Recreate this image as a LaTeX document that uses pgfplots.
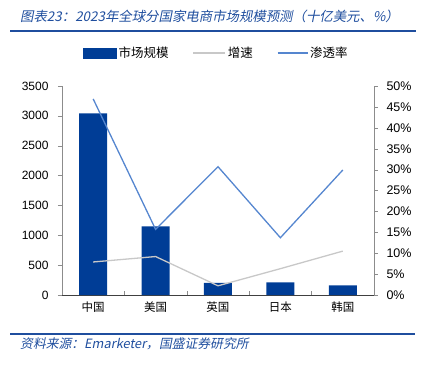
\documentclass[border=0pt]{standalone}
\usepackage{fontspec}
\setmainfont{Liberation Sans}
\newfontfamily\cjk{Noto Sans CJK SC}
\newfontfamily\cjkit{Noto Sans CJK SC}[FakeSlant=0.2]
\usepackage{pgfplots}
\pgfplotsset{compat=1.18}
\definecolor{barblue}{HTML}{003D96}
\definecolor{penblue}{HTML}{5586CF}
\definecolor{growgray}{HTML}{C8C8C8}
\definecolor{titleblue}{HTML}{1F4E9E}
\definecolor{axgray}{HTML}{8C8C8C}
\begin{document}
\begin{tikzpicture}[x=1pt,y=1pt]
\path (0,0) rectangle (424,365);
\draw[titleblue, line width=1.5pt] (10,334) -- (416,334);
\node[anchor=west, text=titleblue, font=\cjkit\fontsize{13.4}{15}\selectfont, inner sep=0pt] at (20,349) {图表23：2023年全球分国家电商市场规模预测（十亿美元、\%）};
\draw[titleblue, line width=1.2pt] (10,31) -- (415,31);
\node[anchor=west, text=titleblue, font=\cjkit\fontsize{12.8}{14}\selectfont, inner sep=0pt] at (20,21) {资料来源：Emarketer，国盛证券研究所};

\begin{axis}[
  at={(62pt,70pt)}, anchor=south west,
  scale only axis, width=312pt, height=209pt,
  xmin=-0.5, xmax=4.5, ymin=0, ymax=3500,
  ytick={0,500,...,3500},
  xtick={0,1,2,3,4},
  xticklabels={中国,美国,英国,日本,韩国},
  xticklabel style={font=\cjk\fontsize{11.5}{13}\selectfont, yshift=-3pt},
  minor xtick={0.5,1.5,2.5,3.5},
  major x tick style={draw=none},
  minor x tick style={draw=axgray},
  minor tick length=4pt,
  xtick align=inside,
  ytick align=outside,
  major tick length=4pt,
  axis x line*=bottom, axis y line*=left,
  x axis line style={draw=black!75, -},
  y axis line style={draw=axgray, -},
  y tick style={draw=axgray},
  yticklabel style={font=\fontsize{12}{14}\selectfont, xshift=-6pt, /pgf/number format/assume math mode=true, /pgf/number format/1000 sep={}},
  scaled y ticks=false,
]
\addplot[ybar, fill=barblue, draw=none, bar width=28pt] coordinates {(0,3040) (1,1150) (2,205) (3,212) (4,162)};
\end{axis}

\begin{axis}[
  at={(62pt,70pt)}, anchor=south west,
  scale only axis, width=312pt, height=209pt,
  xmin=-0.5, xmax=4.5, ymin=0, ymax=50,
  ytick={0,5,...,50},
  yticklabel={\pgfmathprintnumber{\tick}\%},
  axis x line=none, axis y line*=right,
  ytick align=outside, major tick length=4pt,
  y axis line style={draw=axgray, -},
  y tick style={draw=axgray},
  yticklabel style={font=\fontsize{12.5}{14}\selectfont, xshift=5pt, /pgf/number format/assume math mode=true},
  legend columns=3,
  legend style={draw=none, fill=none, at={(0.495,1.158)}, anchor=center, font=\cjk\fontsize{12.5}{14}\selectfont, /tikz/every even column/.append style={column sep=22pt}},
  legend cell align=left,
]
\addlegendimage{legend image code/.code={\fill[barblue] (0pt,-5pt) rectangle (33pt,5pt);}}
\addlegendentry{市场规模}
\addplot[growgray, line width=1.3pt, mark=none, legend image code/.code={\draw[growgray, line width=1.3pt] (0pt,0pt) -- (32pt,0pt);}] coordinates {(0,7.9) (1,9.2) (2,2.2) (3,6.3) (4,10.5)};
\addlegendentry{增速}
\addplot[penblue, line width=1.3pt, mark=none, legend image code/.code={\draw[penblue, line width=1.3pt] (0pt,0pt) -- (30pt,0pt);}] coordinates {(0,46.9) (1,15.7) (2,30.7) (3,13.7) (4,29.9)};
\addlegendentry{渗透率}
\end{axis}
\end{tikzpicture}
\end{document}
